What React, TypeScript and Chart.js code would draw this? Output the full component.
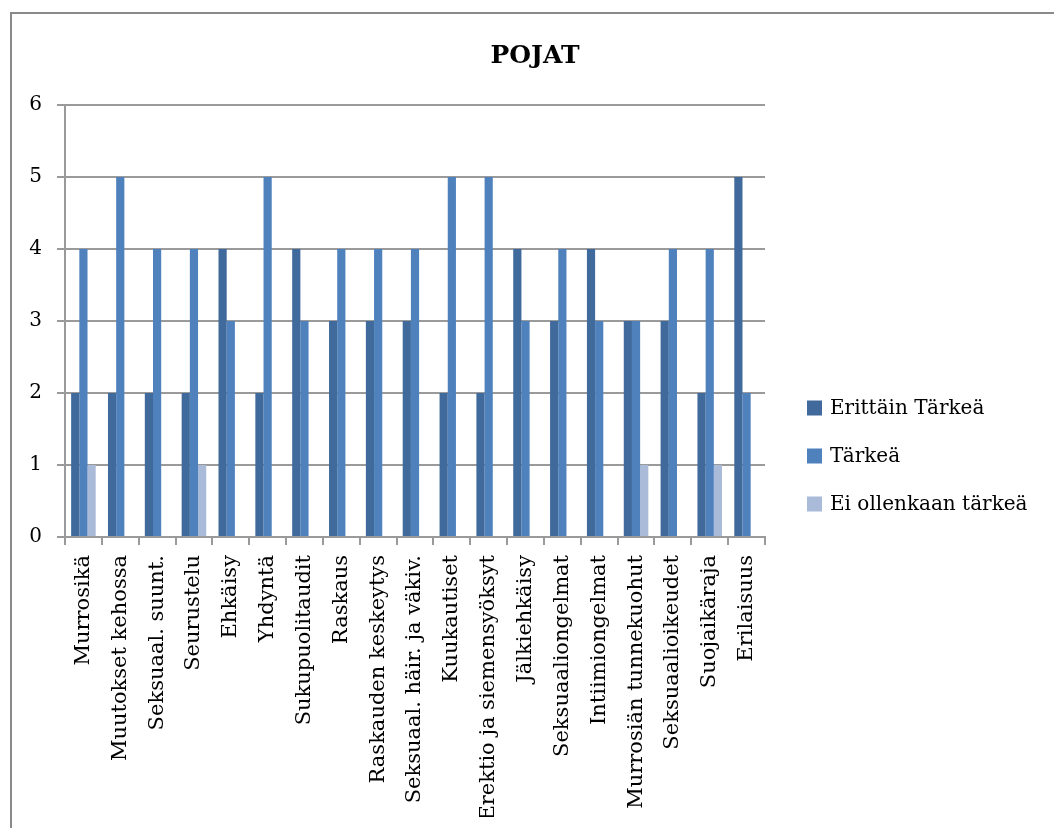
import React, { useEffect, useRef } from "react";
import { Chart, registerables } from "chart.js";

Chart.register(...registerables);

const categories = [
  "Murrosikä",
  "Muutokset kehossa",
  "Seksuaal. suunt.",
  "Seurustelu",
  "Ehkäisy",
  "Yhdyntä",
  "Sukupuolitaudit",
  "Raskaus",
  "Raskauden keskeytys",
  "Seksuaal. häir. ja väkiv.",
  "Kuukautiset",
  "Erektio ja siemensyöksyt",
  "Jälkiehkäisy",
  "Seksuaaliongelmat",
  "Intiimiongelmat",
  "Murrosiän tunnekuohut",
  "Seksuaalioikeudet",
  "Suojaikäraja",
  "Erilaisuus",
];

const seriesNames = ["Erittäin Tärkeä", "Tärkeä", "Ei ollenkaan tärkeä"];

const erittainTarkea = [2, 2, 2, 2, 4, 2, 4, 3, 3, 3, 2, 2, 4, 3, 4, 3, 3, 2, 5];
const tarkea = [4, 5, 4, 4, 3, 5, 3, 4, 4, 4, 5, 5, 3, 4, 3, 3, 4, 4, 2];
const eiOllenkaan = [1, null, null, 1, null, null, null, null, null, null, null, null, null, null, null, 1, null, 1, null];

const yTicks = [0, 1, 2, 3, 4, 5, 6];

const titleText = "POJAT";

const colors = ["#40699c", "#4f81bd", "#aabad9"];
const gridColor = "#9a9a9a";
const fontFamily = "'DejaVu Serif', serif";

// Outer frame, title and the legend on the right
const decorations = {
  id: "decorations",
  afterDraw(chart: Chart) {
    const ctx = chart.ctx;
    ctx.save();
    ctx.strokeStyle = "#8a8a8a";
    ctx.lineWidth = 2;
    ctx.beginPath();
    ctx.moveTo(11, 900);
    ctx.lineTo(11, 13);
    ctx.lineTo(1100, 13);
    ctx.stroke();

    ctx.fillStyle = "#000";
    ctx.font = `bold 25px ${fontFamily}`;
    ctx.textAlign = "center";
    ctx.textBaseline = "middle";
    ctx.fillText(titleText, 535, 56);

    ctx.font = `20px ${fontFamily}`;
    ctx.textAlign = "left";
    seriesNames.forEach((name, i) => {
      const cy = 408 + i * 48;
      ctx.fillStyle = colors[i];
      ctx.fillRect(807, cy - 7.5, 15, 15);
      ctx.fillStyle = "#000";
      ctx.fillText(name, 830, cy + 1);
    });
    ctx.restore();
  },
};

export default function App() {
  const canvasRef = useRef<HTMLCanvasElement | null>(null);

  useEffect(() => {
    const canvas = canvasRef.current;
    if (!canvas) return;
    const data = [erittainTarkea, tarkea, eiOllenkaan];
    const chart = new Chart(canvas, {
      type: "bar",
      data: {
        labels: categories,
        datasets: data.map((values, i) => ({
          label: seriesNames[i],
          data: values,
          backgroundColor: colors[i],
          borderWidth: 0,
          categoryPercentage: 0.667,
          barPercentage: 1.0,
        })),
      },
      options: {
        responsive: false,
        animation: false,
        layout: {
          padding: { left: 0, right: 289, top: 105, bottom: 11 },
        },
        plugins: {
          legend: { display: false },
          title: { display: false },
          tooltip: { enabled: false },
        },
        scales: {
          x: {
            afterFit(scale: any) {
              scale.height = 828 - 537 - 11;
            },
            grid: {
              drawOnChartArea: false,
              drawTicks: true,
              tickLength: 8,
              color: gridColor,
              lineWidth: 2,
            },
            border: { display: true, color: gridColor, width: 2 },
            ticks: {
              autoSkip: false,
              minRotation: 90,
              maxRotation: 90,
              padding: 10,
              color: "#000",
              font: { family: fontFamily, size: 21 },
            },
          },
          y: {
            min: 0,
            max: 6,
            afterFit(scale: any) {
              scale.width = 65;
            },
            afterBuildTicks(scale: any) {
              scale.ticks = yTicks.map((v) => ({ value: v }));
            },
            grid: {
              color: gridColor,
              lineWidth: 2,
              tickLength: 8,
            },
            border: { display: true, color: gridColor, width: 2 },
            ticks: {
              padding: 15,
              color: "#000",
              font: { family: fontFamily, size: 20 },
            },
          },
        },
      },
      plugins: [decorations],
    });
    return () => chart.destroy();
  }, []);

  return (
    <div style={{ position: "absolute", left: 0, top: 0, width: 1054, height: 828, background: "#fff" }}>
      <canvas ref={canvasRef} width={1054} height={828} />
    </div>
  );
}
